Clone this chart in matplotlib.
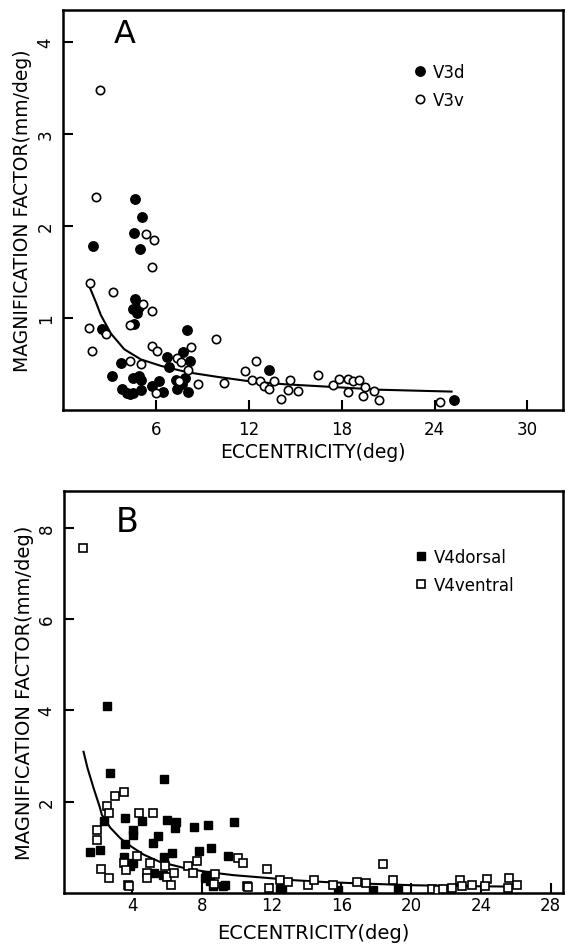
import matplotlib
matplotlib.use("Agg")
import matplotlib.pyplot as plt

# ---- panel A : V3 ----
v3d_x = [1.92, 2.55, 3.16, 3.75, 3.79, 4.14, 4.35, 4.49, 4.58, 4.50, 4.62, 4.65, 4.75, 4.58,
         4.90, 4.95, 5.13, 4.90, 5.07, 5.07, 4.55, 5.77, 6.23, 6.47, 6.70, 6.86, 7.35, 7.30,
         7.70, 7.75, 8.09, 8.02, 8.20, 7.90, 13.33, 25.23]
v3d_y = [1.78, 0.88, 0.37, 0.51, 0.23, 0.19, 0.17, 0.35, 0.93, 1.10, 1.21, 2.29, 1.06, 1.93,
         1.12, 1.75, 2.10, 0.37, 0.22, 0.33, 0.19, 0.26, 0.31, 0.20, 0.58, 0.47, 0.23, 0.33,
         0.28, 0.63, 0.20, 0.87, 0.53, 0.35, 0.43, 0.11]

v3v_x = [2.40, 2.14, 1.74, 1.65, 1.86, 2.81, 3.23, 5.39, 5.89, 5.72, 5.19, 5.72, 4.36, 5.77,
         6.05, 9.90, 8.26, 7.35, 7.63, 8.09, 8.74, 10.37, 6.00, 7.47, 4.30, 5.02, 11.77, 12.44,
         12.20, 12.74, 12.98, 13.28, 13.60, 14.09, 14.67, 14.53, 15.19, 16.47, 17.44, 17.86,
         18.40, 18.74, 19.10, 18.40, 19.53, 19.37, 20.12, 20.40, 24.33]
v3v_y = [3.48, 2.32, 1.38, 0.89, 0.64, 0.83, 1.28, 1.91, 1.85, 1.55, 1.15, 1.08, 0.92, 0.70,
         0.64, 0.77, 0.68, 0.57, 0.52, 0.43, 0.28, 0.29, 0.18, 0.31, 0.53, 0.50, 0.42, 0.53,
         0.33, 0.32, 0.26, 0.23, 0.31, 0.12, 0.33, 0.22, 0.21, 0.38, 0.27, 0.34,
         0.34, 0.31, 0.33, 0.20, 0.25, 0.15, 0.21, 0.11, 0.09]

fitA_x = [1.76, 2.13, 2.45, 3.10, 3.96, 5.03, 6.32, 8.04, 9.98, 12.13, 14.28, 16.4, 20.5, 25.1]
fitA_y = [1.32, 1.17, 1.03, 0.83, 0.66, 0.55, 0.48, 0.41, 0.36, 0.31, 0.28, 0.26, 0.22, 0.20]

# ---- panel B : V4 ----
v4d_x = [2.56, 2.72, 5.84, 2.41, 3.61, 4.56, 4.05, 4.08, 3.61, 5.46, 5.19, 6.00, 6.51, 6.47,
         7.56, 8.38, 9.85, 1.60, 2.14, 7.81, 8.51, 6.28, 5.84, 3.55, 4.05, 3.90, 5.23, 5.80,
         8.25, 8.44, 9.49, 9.34, 12.58, 17.83, 19.26, 15.83, 8.19, 8.65, 9.24, 12.49]
v4d_y = [4.09, 2.62, 2.49, 1.58, 1.65, 1.58, 1.38, 1.26, 1.07, 1.25, 1.09, 1.60, 1.56, 1.43,
         1.45, 1.48, 1.56, 0.89, 0.95, 0.91, 0.98, 0.87, 0.78, 0.78, 0.65, 0.58, 0.44, 0.40,
         0.40, 0.27, 0.82, 0.18, 0.11, 0.06, 0.09, 0.07, 0.33, 0.15, 0.16, 0.09]

v4v_x = [1.16, 2.56, 3.04, 3.55, 2.69, 1.99, 1.99, 2.21, 2.65, 4.37, 5.19, 4.31, 3.51, 3.67,
         3.76, 4.85, 5.04, 4.85, 5.90, 6.00, 6.22, 6.38, 7.20, 7.52, 7.71, 8.76, 8.67, 10.10,
         10.35, 10.58, 11.72, 11.82, 12.49, 12.96, 14.10, 14.45, 15.54, 16.88, 17.41, 18.40,
         18.98, 21.17, 21.51, 21.84, 22.32, 22.80, 22.89, 23.46, 24.32, 24.23, 25.60, 25.56,
         26.04, 10.67, 3.80]
v4v_y = [7.56, 1.91, 2.13, 2.22, 1.75, 1.38, 1.16, 0.53, 0.33, 1.75, 1.75, 0.80, 0.65, 0.51,
         0.18, 0.44, 0.65, 0.33, 0.58, 0.36, 0.18, 0.44, 0.60, 0.44, 0.69, 0.41, 0.20, 0.76,
         0.65, 0.16, 0.52, 0.11, 0.28, 0.25, 0.18, 0.28, 0.18, 0.25, 0.22, 0.64,
         0.28, 0.09, 0.06, 0.09, 0.11, 0.29, 0.16, 0.18, 0.31, 0.16, 0.33, 0.11,
         0.18, 0.13, 0.15]

fitB_x = [1.22, 1.45, 1.80, 2.14, 2.27, 2.75, 3.32, 3.90, 4.66, 5.60, 6.95, 8.29, 9.81, 11.72,
          13.25, 15.0, 17.0, 20.0, 23.0, 25.6]
fitB_y = [3.09, 2.73, 2.29, 1.89, 1.71, 1.43, 1.20, 1.03, 0.84, 0.68, 0.55, 0.46, 0.39, 0.33,
          0.28, 0.24, 0.21, 0.17, 0.15, 0.14]

plt.rcParams['font.family'] = 'DejaVu Sans'
fig = plt.figure(figsize=(5.65, 9.45), dpi=100)
axA = fig.add_axes([0.1115, 0.5651, 0.885, 0.4233])
axB = fig.add_axes([0.1133, 0.0540, 0.8832, 0.4254])


def style_axes(ax, xpad):
    for s in ax.spines.values():
        s.set_linewidth(1.8)
    ax.tick_params(direction='in', length=7, width=1.5, labelsize=12)
    ax.tick_params(axis='x', pad=xpad)
    ax.tick_params(axis='y', pad=6, labelrotation=90)
    for lab in ax.get_yticklabels():
        lab.set_va('center')


# panel A
axA.plot(fitA_x, fitA_y, color='black', lw=1.5, zorder=1)
axA.plot(v3d_x, v3d_y, 'o', ms=6.8, mfc='black', mec='black', label='V3d', zorder=2)
axA.plot(v3v_x, v3v_y, 'o', ms=6.0, mfc='white', mec='black', mew=1.2, label='V3v', zorder=3)
axA.set_xlim(0, 32.3)
axA.set_ylim(0, 4.35)
axA.set_xticks([6, 12, 18, 24, 30])
axA.set_yticks([1, 2, 3, 4])
style_axes(axA, 7)
axA.set_xlabel('ECCENTRICITY(deg)', fontsize=13.5, labelpad=3)
axA.set_ylabel('MAGNIFICATION FACTOR(mm/deg)', fontsize=13.5, labelpad=3)
axA.text(0.124, 0.94, 'A', transform=axA.transAxes, fontsize=23, ha='center', va='center')
axA.legend(loc='upper left', bbox_to_anchor=(0.703, 0.868), frameon=False, fontsize=12,
           handlelength=0.6, handletextpad=0.5, labelspacing=0.6, borderpad=0,
           borderaxespad=0)

# panel B
axB.plot(fitB_x, fitB_y, color='black', lw=1.5, zorder=1)
axB.plot(v4d_x, v4d_y, 's', ms=6.3, mfc='black', mec='black', label='V4dorsal', zorder=2)
axB.plot(v4v_x, v4v_y, 's', ms=5.8, mfc='white', mec='black', mew=1.2, label='V4ventral',
         zorder=3)
axB.set_xlim(0.1, 28.7)
axB.set_ylim(0, 8.8)
axB.set_xticks([4, 8, 12, 16, 20, 24, 28])
axB.set_yticks([2, 4, 6, 8])
style_axes(axB, 2)
axB.set_xlabel('ECCENTRICITY(deg)', fontsize=14, labelpad=7)
axB.set_ylabel('MAGNIFICATION FACTOR(mm/deg)', fontsize=14, labelpad=3)
axB.text(0.126, 0.923, 'B', transform=axB.transAxes, fontsize=24, ha='center', va='center')
axB.legend(loc='upper left', bbox_to_anchor=(0.705, 0.858), frameon=False, fontsize=12,
           handlelength=0.6, handletextpad=0.5, labelspacing=0.6, borderpad=0,
           borderaxespad=0)

fig.savefig('out.png', dpi=100)
